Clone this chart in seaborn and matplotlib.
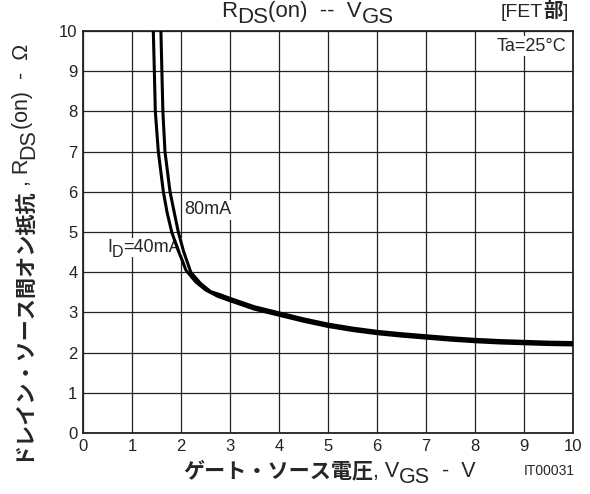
import matplotlib
matplotlib.use("Agg")
import matplotlib.pyplot as plt
import seaborn as sns
import pandas as pd

# ---- data ----
vgs_40 = [1.435, 1.456, 1.476, 1.537, 1.64, 1.714, 1.81, 1.945, 2.03, 2.1, 2.3, 2.5, 2.75,
          3.0, 3.5, 4.0, 4.5, 5.0, 5.5, 6.0, 6.5, 7.0, 7.5, 8.0, 8.5, 9.0, 9.5, 10.0]
rds_40 = [10.0, 9.0, 8.0, 7.0, 6.0, 5.5, 5.0, 4.53, 4.28, 4.05, 3.76, 3.56, 3.40,
          3.29, 3.08, 2.93, 2.78, 2.65, 2.55, 2.47, 2.41, 2.36, 2.31, 2.27, 2.24, 2.22, 2.20, 2.19]
vgs_80 = [1.59, 1.61, 1.63, 1.673, 1.776, 1.86, 1.945, 2.05, 2.12, 2.2, 2.4, 2.6, 2.8,
          3.0, 3.5, 4.0, 4.5, 5.0, 5.5, 6.0, 6.5, 7.0, 7.5, 8.0, 8.5, 9.0, 9.5, 10.0]
rds_80 = [10.0, 9.0, 8.0, 7.0, 6.0, 5.5, 5.0, 4.53, 4.28, 4.0, 3.72, 3.52, 3.44,
          3.35, 3.14, 2.99, 2.84, 2.71, 2.61, 2.53, 2.47, 2.42, 2.37, 2.33, 2.30, 2.28, 2.26, 2.25]
series = ["40mA", "80mA"]
x_ticks = list(range(0, 11))
y_ticks = list(range(0, 11))

sns.set_theme(style="white")
plt.rcParams["font.family"] = ["Liberation Sans", "Noto Sans CJK JP", "DejaVu Sans"]

df = pd.concat([
    pd.DataFrame({"VGS": vgs_40, "RDS": rds_40, "ID": series[0]}),
    pd.DataFrame({"VGS": vgs_80, "RDS": rds_80, "ID": series[1]}),
])

W, H = 590, 494
fig = plt.figure(figsize=(W / 100, H / 100), dpi=100)
ax = fig.add_axes([83 / W, 1 - 433 / H, 490 / W, 402 / H])

sns.lineplot(data=df, x="VGS", y="RDS", hue="ID", palette=["black", "black"],
             sort=False, legend=False, lw=2.2, ax=ax, zorder=3)
for ln in ax.lines:
    ln.set_solid_joinstyle("round")
    ln.set_solid_capstyle("butt")

ax.set_xlim(0, 10)
ax.set_ylim(0, 10)
ax.set_xticks(x_ticks)
ax.set_yticks(y_ticks)
ax.set_xticklabels([str(t) for t in x_ticks], fontsize=12)
ax.set_yticklabels([str(t) for t in y_ticks], fontsize=12)
ax.tick_params(length=0, pad=4, colors="#222222")
ax.grid(True, color="#222222", lw=0.9)
for s in ax.spines.values():
    s.set_color("#222222")
    s.set_linewidth(1.3)
ax.set_xlabel("")
ax.set_ylabel("")

# in-plot labels
bb = dict(facecolor="white", edgecolor="none", pad=1.0)
ax.text(9.87, 9.62, "Ta=25°C", ha="right", va="center", fontsize=13, bbox=bb, zorder=4)
ax.text(2.07, 5.55, "80mA", ha="left", va="center", fontsize=13, bbox=bb, zorder=2)
t_id = ax.text(0.5, 4.5, "I", ha="left", va="baseline", fontsize=13, zorder=2)
t_d = ax.annotate("D", xy=(1, 4.5), xycoords=(t_id, "data"), xytext=(-0.5, -3.5),
                  textcoords="offset points", ha="left", va="baseline", fontsize=11.5,
                  zorder=2)
ax.annotate("=40mA", xy=(1, 4.5), xycoords=(t_d, "data"), xytext=(0, 0),
            textcoords="offset points", ha="left", va="baseline", fontsize=13,
            bbox=dict(facecolor="white", edgecolor="none", pad=0.5), zorder=2)


def chain(pieces, x0, y0, rot):
    """pieces: list of (text, props, sub_offset_pts)."""
    prev = None
    for s, props, off in pieces:
        if prev is None:
            xy, xyc = (x0, y0), "figure fraction"
        elif rot == 0:
            xy, xyc = (1, y0), (prev, "figure fraction")
        else:
            xy, xyc = (x0, 1), ("figure fraction", prev)
        dxy = (0, -off) if rot == 0 else (off, 0)
        prev = fig.add_artist(plt.Annotation(
            s, xy=xy, xycoords=xyc, xytext=dxy, textcoords="offset points",
            rotation=rot, rotation_mode="anchor", ha="left", va="baseline", **props))
    return prev

jp = dict(family=["Noto Sans CJK JP", "DejaVu Sans"], fontweight="bold", fontsize=15.2)
lat = dict(family=["Liberation Sans", "DejaVu Sans"], fontsize=15.5)

# x label
chain([("ゲート・ソース電圧", jp, 0), (", V", lat, 0), ("GS", lat, 4.5), ("  -  V", lat, 0)],
      183 / W, 1 - 477 / H, 0)
# y label
chain([("ドレイン・ソース間オン抵抗", jp, 0), (", R", lat, 0), ("DS", lat, 4.5),
       ("(on)  -  Ω", lat, 0)],
      28 / W, 1 - 461 / H, 90)
# title
tl = dict(family=["Liberation Sans", "DejaVu Sans"], fontsize=16)
chain([("R", tl, 0), ("DS", tl, 4.5), ("(on)  --  V", tl, 0), ("GS", tl, 4.5)],
      221 / W, 1 - 17 / H, 0)
fl = dict(family=["Liberation Sans", "DejaVu Sans"], fontsize=14)
fb = dict(family=["Noto Sans CJK JP", "DejaVu Sans"], fontsize=14, fontweight="bold")
chain([("[FET", fl, 0), ("部", fb, 0), ("]", fl, 0)], 501 / W, 1 - 17 / H, 0)
fig.text(575 / W, 1 - 475 / H, "IT00031", ha="right", va="baseline", fontsize=10)

fig.savefig("out.png", dpi=100)
